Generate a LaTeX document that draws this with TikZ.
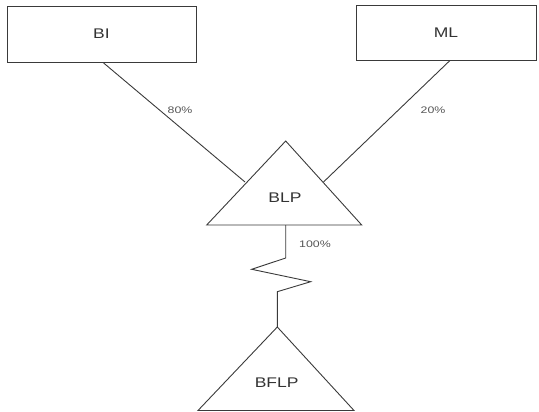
\documentclass[tikz,border=0pt]{standalone}
\usepackage{fontspec}
\setmainfont{Liberation Sans}
\usetikzlibrary{calc}
\definecolor{linec}{HTML}{3A3A3A}
\definecolor{textc}{HTML}{333333}
\definecolor{labc}{HTML}{555555}
\tikzset{
  boxnode/.style={draw=linec, line width=0.9pt, minimum width=189pt, minimum height=56pt, inner sep=0pt, text=textc, font=\fontsize{14}{14}\selectfont},
  conn/.style={draw=linec, line width=0.9pt},
  tri/.style={draw=linec, line width=0.9pt, line join=miter},
  nametext/.style={text=textc, font=\fontsize{14}{14}\selectfont, inner sep=0pt},
  pct/.style={text=labc, font=\fontsize{9.5}{9.5}\selectfont, inner sep=0pt}
}
\begin{document}
\begin{tikzpicture}[x=1pt,y=-1pt]
\useasboundingbox (0,0) rectangle (539,412);
% boxes
\node[boxnode] (BI) at (101.5,34) {\scalebox{1.25}[1]{BI}};
\node[boxnode, minimum width=180pt, minimum height=55pt] (ML) at (446,32.5) {\scalebox{1.25}[1]{ML}};
% BLP triangle
\coordinate (blpTop) at (285.7,141);
\coordinate (blpL) at (206.7,225);
\coordinate (blpR) at (361.7,225);
\draw[tri] (blpTop) -- (blpR) -- (blpL) -- cycle;
\node[nametext] (BLP) at (285,198) {\scalebox{1.25}[1]{BLP}};
\coordinate (blpInL) at (245,182);
\coordinate (blpInR) at (323.5,182);
\coordinate (blpBot) at (285.7,225);
% BFLP triangle
\coordinate (bflpTop) at (277.3,327);
\coordinate (bflpL) at (198,410.5);
\coordinate (bflpR) at (354,410.5);
\draw[tri] (bflpTop) -- (bflpR) -- (bflpL) -- cycle;
\node[nametext] (BFLP) at (276.7,383) {\scalebox{1.25}[1]{BFLP}};
% connectors
\draw[conn] ($(BI.south)+(1.5,0)$) -- (blpInL);
\draw[conn] ($(ML.south)+(4,0)$) -- (blpInR);
\draw[conn, line join=miter] (blpBot) -- (285.7,258) -- (251.7,269.3) -- (310.7,281.7) -- (277.3,291.7) -- (bflpTop);
% labels
\node[pct] (p80) at (180,110) {\scalebox{1.3}[1]{80\%}};
\node[pct] (p20) at (433,110) {\scalebox{1.3}[1]{20\%}};
\node[pct] (p100) at (315,244) {\scalebox{1.3}[1]{100\%}};
\end{tikzpicture}
\end{document}
